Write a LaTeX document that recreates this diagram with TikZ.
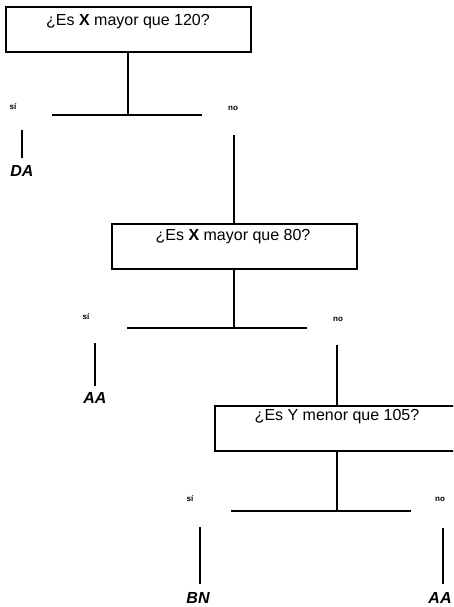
\documentclass[tikz,border=0pt]{standalone}
\usepackage{fontspec}
\setmainfont{Liberation Sans}
\begin{document}
\begin{tikzpicture}[x=1pt,y=-1pt,line width=1.7pt,
  qbox/.style={draw,line width=2pt,minimum width=245pt,minimum height=45pt,inner sep=0pt},
  qtext/.style={inner sep=0pt,font=\fontsize{16}{19}\selectfont},
  branch/.style={inner sep=0pt,font=\bfseries\fontsize{8}{9}\selectfont},
  leaf/.style={inner sep=0pt,font=\bfseries\itshape\fontsize{16}{19}\selectfont}]
\useasboundingbox (0,0) rectangle (453,607);
\clip (0,0) rectangle (453,607);
% question boxes
\node[qbox] (q1) at (128,30) {};
\node[qtext] (t1) at (128,22) {¿Es \textbf{X} mayor que 120?};
\node[qbox] (q2) at (234,246) {};
\node[qtext] (t2) at (233,237) {¿Es \textbf{X} mayor que 80?};
\node[qbox] (q3) at (337,428) {};
\node[qtext] (t3) at (337,417) {¿Es Y menor que 105?};
% split lines
\coordinate (h1l) at (52,115); \coordinate (h1c) at (128,115); \coordinate (h1r) at (202,115);
\coordinate (h2l) at (127,328); \coordinate (h2c) at (234,328); \coordinate (h2r) at (307,328);
\coordinate (h3l) at (231,511); \coordinate (h3c) at (337,511); \coordinate (h3r) at (411,511);
\draw (q1.south) -- (h1c); \draw (h1l) -- (h1r);
\draw (q2.south) -- (h2c); \draw (h2l) -- (h2r);
\draw (q3.south) -- (h3c); \draw (h3l) -- (h3r);
% branch labels
\node[branch] (s1) at (13,107) {sí};
\node[branch] (n1) at (233,108) {no};
\node[branch] (s2) at (86,317) {sí};
\node[branch] (n2) at (338,319) {no};
\node[branch] (s3) at (190,499) {sí};
\node[branch] (n3) at (440,499) {no};
% links to next questions
\coordinate (n1d) at (234,135);
\draw (n1d) -- (q2.north);
\coordinate (n2d) at (337,345);
\draw (n2d) -- (q3.north);
% leaves
\node[leaf] (da) at (22,171) {DA};
\coordinate (da1) at (22,130); \coordinate (da2) at (22,158);
\draw (da1) -- (da2);
\node[leaf] (aa1) at (95,398) {AA};
\coordinate (aa1a) at (95,343); \coordinate (aa1b) at (95,386);
\draw (aa1a) -- (aa1b);
\node[leaf] (bn) at (198,598) {BN};
\coordinate (bn1) at (200,527); \coordinate (bn2) at (200,584);
\draw (bn1) -- (bn2);
\node[leaf] (aa2) at (440,598) {AA};
\coordinate (aa2a) at (443,528); \coordinate (aa2b) at (443,584);
\draw (aa2a) -- (aa2b);
\end{tikzpicture}
\end{document}
